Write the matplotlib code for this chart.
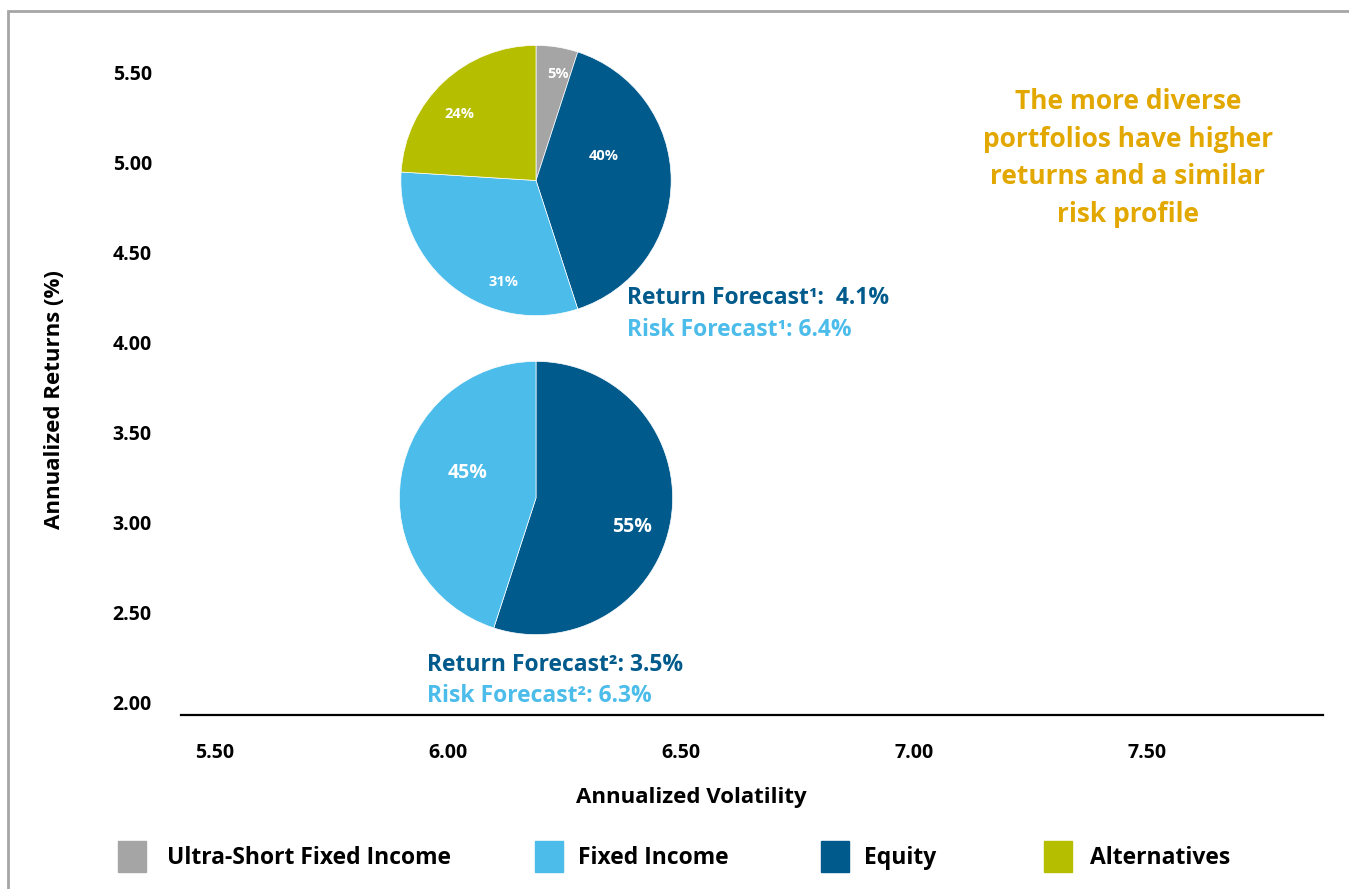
import numpy as np
import matplotlib
matplotlib.use("Agg")
import matplotlib.pyplot as plt
from matplotlib.patches import Rectangle

plt.rcParams['font.family'] = ['Open Sans', 'DejaVu Sans']

# data
categories = ["Ultra-Short Fixed Income", "Fixed Income", "Equity", "Alternatives"]
colors = {"Ultra-Short Fixed Income": "#A5A5A5", "Fixed Income": "#4CBCEA",
          "Equity": "#005A8B", "Alternatives": "#B6BE00"}

pie1_cats = ["Ultra-Short Fixed Income", "Equity", "Fixed Income", "Alternatives"]
pie1_vals = [5, 40, 31, 24]
pie2_cats = ["Equity", "Fixed Income"]
pie2_vals = [55, 45]

x_ticks = [5.50, 6.00, 6.50, 7.00, 7.50]
y_ticks = [2.00, 2.50, 3.00, 3.50, 4.00, 4.50, 5.00, 5.50]

ret1, risk1 = 4.1, 6.4
ret2, risk2 = 3.5, 6.3

W, H = 1349, 889
fig = plt.figure(figsize=(W/100, H/100), dpi=100)

def fx(px):
    return px / W
def fy(py):
    return 1 - py / H

# outer frame
fig.patches.append(Rectangle((fx(8), fy(H + 20)), 1.2, fy(11) - fy(H + 20),
                             transform=fig.transFigure, fill=False,
                             edgecolor="#A6A6A6", lw=2, zorder=0))

# main axes
ax = fig.add_axes([fx(181), fy(715), fx(1323) - fx(181), fy(40) - fy(715)])
ax.set_xlim(5.427, 7.878)
ax.set_ylim(1.928, 5.678)
ax.set_xticks(x_ticks)
ax.set_xticklabels([f"{v:.2f}" for v in x_ticks])
ax.set_yticks(y_ticks)
ax.set_yticklabels([f"{v:.2f}" for v in y_ticks])
for s in ["top", "right", "left"]:
    ax.spines[s].set_visible(False)
ax.spines["bottom"].set_linewidth(1.6)
ax.spines["bottom"].set_color("black")
ax.tick_params(axis="both", length=0, labelsize=14)
ax.tick_params(axis="y", pad=21)
ax.tick_params(axis="x", pad=20)
for lab in ax.get_xticklabels() + ax.get_yticklabels():
    lab.set_fontweight("bold")
ax.patch.set_alpha(0)

fig.text(fx(55), fy(400), "Annualized Returns (%)", rotation=90, ha="center",
         va="center", fontsize=16, fontweight="bold")
fig.text(fx(691), fy(797), "Annualized Volatility", ha="center", va="center",
         fontsize=16, fontweight="bold")

# pies
def draw_pie(cx, cy, r, cats, vals, label_pos, fs):
    pax = fig.add_axes([fx(cx - r), fy(cy + r), 2 * r / W, 2 * r / H])
    pax.pie(vals, colors=[colors[c] for c in cats], startangle=90,
            counterclock=False, radius=1,
            wedgeprops=dict(linewidth=0.5, edgecolor="white"))
    for v, (lx, ly) in zip(vals, label_pos):
        pax.text(lx, ly, f"{v}%", color="white", fontsize=fs,
                 fontweight="bold", ha="center", va="center")
    pax.set_xlim(-1.01, 1.01)
    pax.set_ylim(-1.01, 1.01)
    pax.set_aspect("equal")
    pax.axis("off")

draw_pie(536, 180.5, 136.5, pie1_cats, pie1_vals,
         [(0.16, 0.79), (0.5, 0.18), (-0.24, -0.75), (-0.57, 0.49)], 10.5)
draw_pie(536, 498, 138, pie2_cats, pie2_vals,
         [(0.70, -0.21), (-0.5, 0.18)], 14)

# annotations
fig.text(fx(627), fy(298), f"Return Forecast\u00b9:  {ret1}%", color="#005A8B",
         fontsize=16.5, fontweight="bold", ha="left", va="center")
fig.text(fx(627), fy(330), f"Risk Forecast\u00b9: {risk1}%", color="#4CBCEA",
         fontsize=16.5, fontweight="bold", ha="left", va="center")
fig.text(fx(427), fy(665), f"Return Forecast\u00b2: {ret2}%", color="#005A8B",
         fontsize=16.5, fontweight="bold", ha="left", va="center")
fig.text(fx(427), fy(696), f"Risk Forecast\u00b2: {risk2}%", color="#4CBCEA",
         fontsize=16.5, fontweight="bold", ha="left", va="center")

fig.text(fx(1128), fy(158),
         "The more diverse\nportfolios have higher\nreturns and a similar\nrisk profile",
         color="#E2A800", fontsize=19, fontweight="bold", ha="center",
         va="center", linespacing=1.5)

# legend
leg_box_x = [118, 535, 821, 1044]
leg_text_x = [167, 578, 864, 1090]
for c, bx, tx in zip(categories, leg_box_x, leg_text_x):
    fig.patches.append(Rectangle((fx(bx), fy(872)), 28 / W, 31 / H,
                                 transform=fig.transFigure, color=colors[c]))
    fig.text(fx(tx), fy(858), c, fontsize=16.5, fontweight="bold",
             ha="left", va="center")

fig.savefig("out.png", dpi=100)
